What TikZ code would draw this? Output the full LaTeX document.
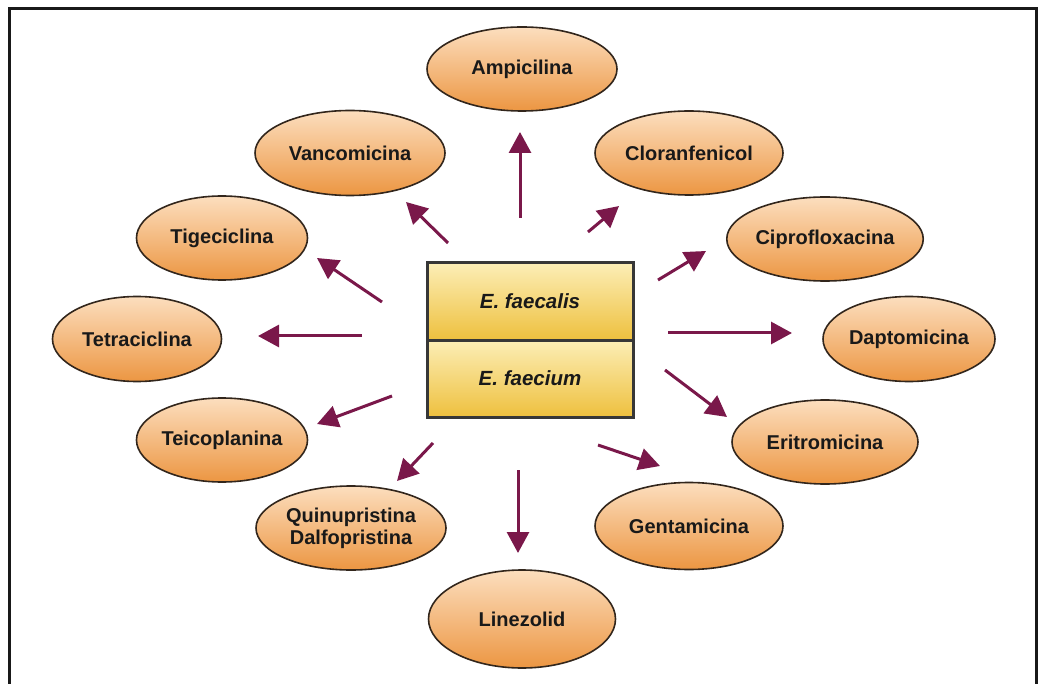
\documentclass[tikz,border=0pt]{standalone}
\usepackage{fontspec}
\setmainfont{Liberation Sans}
\usetikzlibrary{shapes.geometric,arrows.meta}
\definecolor{arr}{RGB}{122,24,74}
\definecolor{elltop}{RGB}{252,222,190}
\definecolor{ellbot}{RGB}{236,150,66}
\definecolor{ellline}{RGB}{50,38,28}
\definecolor{boxtop}{RGB}{252,238,182}
\definecolor{boxbot}{RGB}{238,192,62}
\definecolor{boxline}{RGB}{55,55,55}
\begin{document}
\begin{tikzpicture}[x=1pt,y=-1pt,
  drug/.style={ellipse, draw=ellline, line width=1.6pt, inner sep=0pt,
    top color=elltop, bottom color=ellbot, minimum width=188pt, minimum height=84pt,
    font=\fontsize{20}{22}\selectfont\bfseries, align=center, text=black!90},
  cell/.style={rectangle, draw=boxline, line width=3pt, inner sep=0pt,
    top color=boxtop, bottom color=boxbot, minimum width=206pt, minimum height=77pt,
    font=\fontsize{20.5}{24}\selectfont\bfseries\itshape, text=black!90},
  arrw/.style={draw=arr, line width=3pt, -{Triangle[length=21pt,width=22pt]}, arr}
]
\useasboundingbox (0,0) rectangle (1038,684);
\clip (0,0) rectangle (1038,684);
\fill[white] (0,0) rectangle (1038,684);
\draw[line width=3pt, black!90] (9.5,700) -- (9.5,8.5) -- (1036.5,8.5) -- (1036.5,700);

% ellipses
\node[drug, minimum width=190pt] (amp) at (522,69) {Ampicilina};
\node[drug, minimum width=190pt, minimum height=85pt] (van) at (350,153) {Vancomicina};
\node[drug] (clo) at (689,153) {Cloranfenicol};
\node[drug, minimum width=171pt] (tig) at (222,238) {Tigeciclina};
\node[drug, minimum width=190pt] (cip) at (825,239) {Ciprofloxacina};
\node[drug, minimum width=169pt, minimum height=85pt] (tet) at (137,339) {Tetraciclina};
\node[drug, minimum width=172pt, minimum height=85pt] (dap) at (909,339) {Daptomicina};
\node[drug, minimum width=171pt] (tei) at (222,440) {Teicoplanina};
\node[drug, minimum width=186pt] (eri) at (825,442) {Eritromicina};
\node[drug, minimum width=190pt] (qui) at (351,528) {Quinupristina\\Dalfopristina};
\node[drug, minimum height=87pt] (gen) at (689,526) {Gentamicina};
\node[drug, minimum width=187pt, minimum height=98pt] (lin) at (522,619) {Linezolid};

% central box
\node[cell] (fcl) at (530,301.5) {E. faecalis};
\node[cell] (fcm) at (530,378.5) {E. faecium};

% arrow end points
\coordinate (t1) at (520,218);  \coordinate (h1) at (520,132);
\coordinate (t2) at (448,243);  \coordinate (h2) at (406,202);
\coordinate (t3) at (588,232);  \coordinate (h3) at (619,206);
\coordinate (t4) at (382,302);  \coordinate (h4) at (317,258);
\coordinate (t5) at (658,280);  \coordinate (h5) at (706,251);
\coordinate (t6) at (362,336);  \coordinate (h6) at (258,336);
\coordinate (t7) at (668,333);  \coordinate (h7) at (792,333);
\coordinate (t8) at (392,396);  \coordinate (h8) at (317,424);
\coordinate (t9) at (665,370);  \coordinate (h9) at (727,417);
\coordinate (t10) at (433,443); \coordinate (h10) at (397,481);
\coordinate (t11) at (518,470); \coordinate (h11) at (518,553);
\coordinate (t12) at (598,445); \coordinate (h12) at (660,466);

\foreach \i in {1,...,12} { \draw[arrw] (t\i) -- (h\i); }
\end{tikzpicture}
\end{document}
